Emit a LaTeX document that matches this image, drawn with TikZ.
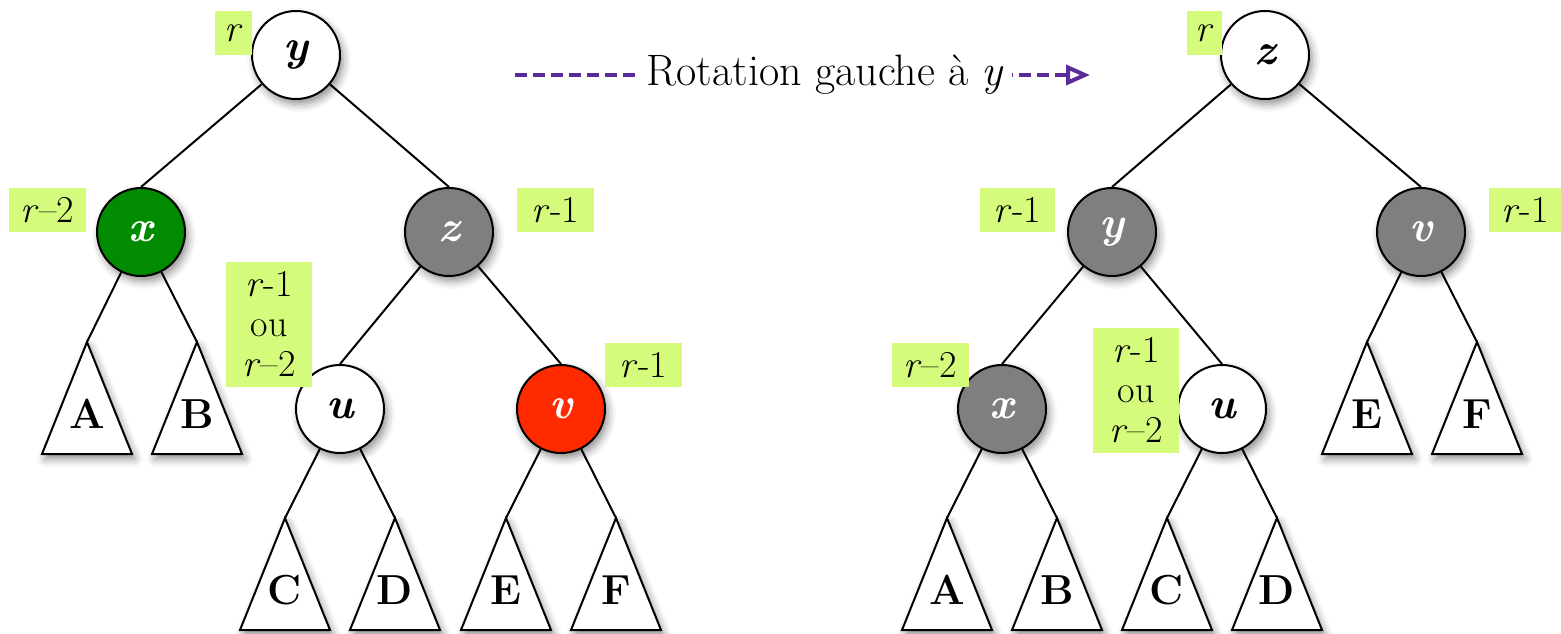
\documentclass[tikz,border=0pt]{standalone}
\usetikzlibrary{shadows.blur,arrows.meta,backgrounds}
\definecolor{lbl}{HTML}{D5FB7D}
\definecolor{pur}{HTML}{5A2A9C}
\definecolor{gr}{HTML}{008B00}
\definecolor{gy}{HTML}{7F7F7F}
\definecolor{rd}{HTML}{FF2A00}
\tikzset{
  shad/.style={blur shadow={shadow xshift=1.5pt,shadow yshift=-2.5pt,shadow blur radius=4pt,shadow opacity=45}},
  vnode/.style={circle,draw=black,line width=1pt,fill=white,minimum size=44pt,inner sep=0pt,
    font=\fontsize{22}{24}\selectfont\bfseries\itshape,shad},
  wnode/.style={vnode,fill=white,text=black},
  gnode/.style={vnode,fill=gr,text=white},
  ynode/.style={vnode,fill=gy,text=white},
  rnode/.style={vnode,fill=rd,text=white},
  tri/.style={draw=black,line width=1pt,fill=white,line join=miter,shad},
  trilbl/.style={inner sep=0pt,font=\fontsize{21}{23}\selectfont\bfseries},
  lab/.style={fill=lbl,inner sep=0pt,align=center,font=\fontsize{19}{20}\selectfont},
  edge/.style={draw=black,line width=1pt},
}
\newcommand{\tritree}[4]{%
  \coordinate (#1) at (#2,#3);
  \draw[tri] (#1) -- ++(-45,112) -- ++(90,0) -- cycle;
  \node[trilbl] (#1l) at (#2,{#3+72}) {#4};
}
\begin{document}
\begin{tikzpicture}[x=0.5pt,y=-0.5pt]
\useasboundingbox (0,0) rectangle (1561,633);
% ---------- left tree ----------
\node[wnode] (Ly) at (296,55) {y};
\node[gnode] (Lx) at (141,232) {x};
\node[ynode] (Lz) at (449,232) {z};
\node[wnode] (Lu) at (340,409) {u};
\node[rnode] (Lv) at (561,409) {v};
\tritree{LA}{87}{342}{A}
\tritree{LB}{197}{342}{B}
\tritree{LC}{285}{518}{C}
\tritree{LD}{395}{518}{D}
\tritree{LE}{506}{518}{E}
\tritree{LF}{616}{518}{F}
% ---------- right tree ----------
\node[wnode] (Rz) at (1265,55) {z};
\node[ynode] (Ry) at (1112,232) {y};
\node[ynode] (Rv) at (1421,232) {v};
\node[ynode] (Rx) at (1002,409) {x};
\node[wnode] (Ru) at (1222,409) {u};
\tritree{RA}{947}{518}{A}
\tritree{RB}{1057}{518}{B}
\tritree{RC}{1167}{518}{C}
\tritree{RD}{1277}{518}{D}
\tritree{RE}{1367}{342}{E}
\tritree{RF}{1477}{342}{F}
% ---------- edges ----------
\begin{scope}[on background layer]
\draw[edge] (Ly) -- (Lx.north);
\draw[edge] (Ly) -- (Lz.north);
\draw[edge] (Lx) -- (LA);
\draw[edge] (Lx) -- (LB);
\draw[edge] (Lz) -- (Lu.north);
\draw[edge] (Lz) -- (Lv.north);
\draw[edge] (Lu) -- (LC);
\draw[edge] (Lu) -- (LD);
\draw[edge] (Lv) -- (LE);
\draw[edge] (Lv) -- (LF);
\draw[edge] (Rz) -- (Ry.north);
\draw[edge] (Rz) -- (Rv.north);
\draw[edge] (Ry) -- (Rx.north);
\draw[edge] (Ry) -- (Ru.north);
\draw[edge] (Rx) -- (RA);
\draw[edge] (Rx) -- (RB);
\draw[edge] (Ru) -- (RC);
\draw[edge] (Ru) -- (RD);
\draw[edge] (Rv) -- (RE);
\draw[edge] (Rv) -- (RF);
\end{scope}
% ---------- labels ----------
\node[lab,minimum width=18.5pt,minimum height=22pt] (l1) at (233.5,33) {\textit{r}};
\node[lab,minimum width=38.5pt,minimum height=22pt] (l2) at (47.5,210) {\textit{r}--2};
\node[lab,minimum width=38.5pt,minimum height=22pt] (l3) at (555.5,210) {\textit{r}-1};
\node[lab,minimum width=43pt,minimum height=62.5pt] (l4) at (269,324.5) {\textit{r}-1\\ou\\\textit{r}--2};
\node[lab,minimum width=38.5pt,minimum height=22pt] (l5) at (643.5,365) {\textit{r}-1};
\node[lab,minimum width=17.5pt,minimum height=22pt] (l6) at (1204.5,33) {\textit{r}};
\node[lab,minimum width=37.5pt,minimum height=22pt] (l7) at (1017.5,210) {\textit{r}-1};
\node[lab,minimum width=36pt,minimum height=22pt] (l8) at (1525,210) {\textit{r}-1};
\node[lab,minimum width=38.5pt,minimum height=22pt] (l9) at (930,365) {\textit{r}--2};
\node[lab,minimum width=43pt,minimum height=62.5pt] (l10) at (1136,390.5) {\textit{r}-1\\ou\\\textit{r}--2};
% ---------- rotation arrow ----------
\coordinate (arS) at (515,75);
\coordinate (arE) at (1090,75);
\draw[pur,line width=2pt,dash pattern=on 6pt off 3pt,-{Triangle[open,length=12pt,width=10pt,line width=2pt]}] (arS) -- (arE)
  node[pos=0.54,fill=white,text=black,inner xsep=4pt,inner ysep=2pt,font=\fontsize{22}{24}\selectfont] (rot) {Rotation gauche à \textit{y}};
\end{tikzpicture}
\end{document}
